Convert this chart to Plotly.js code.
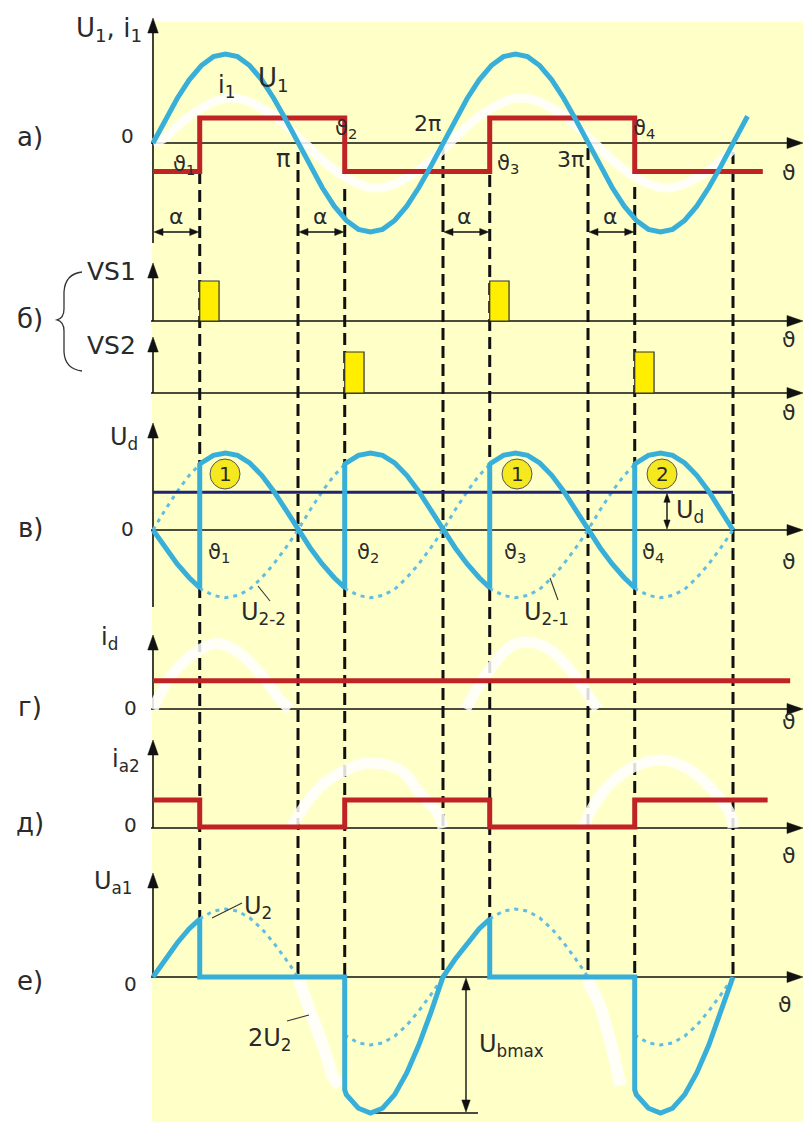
<!DOCTYPE html>
<html>
<head>
<meta charset="utf-8">
<script src="https://cdn.plot.ly/plotly-3.0.1.min.js"></script>
<style>
  html, body { margin: 0; padding: 0; background: #ffffff; }
  #chart { width: 811px; height: 1122px; }
</style>
</head>
<body>
<div id="chart"></div>
<script>
// ---------------------------------------------------------------
// Single-phase midpoint controlled rectifier: time diagrams
// angle axis in electrical degrees, every panel in per-unit values
// ---------------------------------------------------------------

// firing instants ϑ1..ϑ4 and multiples of π (degrees)
const THETA_FIRE = [58, 238, 418, 598];
const THETA_PI   = [180, 360, 540, 720];
const PULSE_WIDTH = 24;

// а) supply voltage U1
const TH_U1 = [0,15,30,45,60,75,90,105,120,135,150,165,180,195,210,225,240,255,270,285,300,315,330,345,
               360,375,390,405,420,435,450,465,480,495,510,525,540,555,570,585,600,615,630,645,660,675,690,705,720,738];
const U1 = [0,.26,.5,.71,.87,.97,1,.97,.87,.71,.5,.26,0,-.26,-.5,-.71,-.87,-.97,-1,-.97,-.87,-.71,-.5,-.26,
            0,.26,.5,.71,.87,.97,1,.97,.87,.71,.5,.26,0,-.26,-.5,-.71,-.87,-.97,-1,-.97,-.87,-.71,-.5,-.26,0,.3];

// а) faint trace of i1
const TH_I1 = [0,15,30,45,60,75,90,105,120,135,150,165,180,195,210,225,240,255,270,285,300,315,330,345,
               360,375,390,405,420,435,450,465,480,495,510,525,540,555,570,585,600,615,630,645,660,675,690,705,720];
const I1 = [0,.06,.19,.30,.39,.46,.50,.50,.46,.39,.31,.20,.07,-.06,-.19,-.30,-.39,-.46,-.50,-.50,-.46,-.39,-.31,-.20,
            -.07,.06,.19,.30,.39,.46,.50,.50,.46,.39,.31,.20,.07,-.06,-.19,-.30,-.39,-.46,-.50,-.50,-.46,-.39,-.31,-.20,-.07];

// а) primary current (square wave)
const TH_SQ = [0,58,58,238,238,418,418,598,598,757];
const I1_SQ = [-.32,-.32,.28,.28,-.32,-.32,.28,.28,-.32,-.32];

// б) gate pulses
const VS1_AT = [58, 418];
const VS2_AT = [238, 598];
const PULSE = [1, 1];

// в) rectified voltage Ud
const TH_UD = [0,15,30,45,58,
               58,60,75,90,105,120,135,150,165,180,195,210,225,238,
               238,240,255,270,285,300,315,330,345,360,375,390,405,418,
               418,420,435,450,465,480,495,510,525,540,555,570,585,598,
               598,600,615,630,645,660,675,690,705,720];
const UD = [0,-.23,-.44,-.62,-.75,
            .85,.87,.97,1,.97,.87,.71,.5,.26,0,-.23,-.44,-.62,-.75,
            .85,.87,.97,1,.97,.87,.71,.5,.26,0,-.23,-.44,-.62,-.75,
            .85,.87,.97,1,.97,.87,.71,.5,.26,0,-.23,-.44,-.62,-.75,
            .85,.87,.97,1,.97,.87,.71,.5,.26,0];
const UD_AVG = 0.49;

// в) secondary half-windings (dotted where not conducting)
const TH_U21 = [0,15,30,45,58,null,
                238,240,255,270,285,300,315,330,345,360,375,390,405,418,null,
                598,600,615,630,645,660,675,690,705,720];
const U21 = [0,.26,.5,.71,.85,null,
             -.75,-.77,-.85,-.88,-.85,-.77,-.62,-.44,-.23,0,.26,.5,.71,.85,null,
             -.75,-.77,-.85,-.88,-.85,-.77,-.62,-.44,-.23,0];
const TH_U22 = [58,60,75,90,105,120,135,150,165,180,195,210,225,238,null,
                418,420,435,450,465,480,495,510,525,540,555,570,585,598];
const U22 = [-.75,-.77,-.85,-.88,-.85,-.77,-.62,-.44,-.23,0,.26,.5,.71,.85,null,
             -.75,-.77,-.85,-.88,-.85,-.77,-.62,-.44,-.23,0,.26,.5,.71,.85];

// г) load current
const TH_ID = [0, 791];
const ID = [.41, .41];
const TH_ID_TRACE = [0,25,58,80,108,137,158,170,null,388,415,443,464,493,521,542,552];
const ID_TRACE = [0,.52,.86,.95,.81,.46,.13,0,null,0,.52,.9,.97,.86,.52,.17,0];

// д) anode current of VS2
const TH_IA2 = [0,58,58,238,238,418,418,598,598,763];
const IA2 = [1,1,.04,.04,1,1,.04,.04,1,1];
const TH_IA2_TRACE = [172,179,207,232,266,307,331,353,360,null,535,542,564,596,633,667,691,716,720];
const IA2_TRACE = [0,.39,1.46,1.96,2.32,2.07,1.25,.54,0,null,0,.54,1.46,2.18,2.43,2.07,1.46,.54,0];

// е) anode voltage of VS1
const TH_UA1 = [0,15,30,45,58,58,238,238,240,255,270,285,300,315,330,345,360,375,390,405,418,418,598,
                598,600,615,630,645,660,675,690,705,720];
const UA1 = [0,.26,.5,.71,.85,0,0,-1.66,-1.73,-1.93,-2,-1.93,-1.73,-1.41,-1,-.52,0,.26,.5,.71,.85,0,0,
             -1.66,-1.73,-1.93,-2,-1.93,-1.73,-1.41,-1,-.52,0];
const TH_U2E = [58,60,75,90,105,120,135,150,165,180,null,
                238,240,255,270,285,300,315,330,345,360,null,
                418,420,435,450,465,480,495,510,525,540,null,
                598,600,615,630,645,660,675,690,705,720];
const U2E = [.85,.87,.97,1,.97,.87,.71,.5,.26,0,null,
             -.85,-.87,-.97,-1,-.97,-.87,-.71,-.5,-.26,0,null,
             .85,.87,.97,1,.97,.87,.71,.5,.26,0,null,
             -.85,-.87,-.97,-1,-.97,-.87,-.71,-.5,-.26,0];
const TH_UA1_TRACE = [180,195,204,215,223,232,null,539,548,555,563,571,580];
const UA1_TRACE = [0,-.5,-.78,-1.15,-1.45,-1.6,null,-.04,-.25,-.43,-.75,-1.1,-1.6];
const UBMAX = -2;

// ---------------------------------------------------------------
// geometry
// ---------------------------------------------------------------
const W = 811, H = 1122;
const X0PX = 153;            // pixel column of ϑ = 0
const PXD = 145 / 180;       // pixels per degree
const thx = t => X0PX + t * PXD;
const fx = px => px / W;
const fy = py => 1 - py / H;

// per-panel vertical placement: zero line (px), px per unit, domain (px)
const AX = {
  y:  {zero: 143, k: 89, top: 0,   bot: 252},
  y2: {zero: 321, k: 40, top: 254, bot: 326},
  y3: {zero: 393, k: 41, top: 328, bot: 402},
  y4: {zero: 530, k: 77, top: 405, bot: 618},
  y5: {zero: 709, k: 69, top: 620, bot: 722},
  y6: {zero: 828, k: 28, top: 725, bot: 842},
  y7: {zero: 977, k: 68, top: 845, bot: 1122}
};
const pyv = (a, v) => AX[a].zero - v * AX[a].k;

const BLUE = '#38AFD9', BLUE_DOT = '#62BDE2', RED = '#BF2326', NAVY = '#1E2470';
const GHOST = 'rgba(255,255,255,0.85)';
const INK = '#2a2a2a';
const FONT = 'DejaVu Sans, Liberation Sans, Arial, sans-serif';

// ---------------------------------------------------------------
// traces
// ---------------------------------------------------------------
const ln = (x, y, ax, color, width, dash) => ({
  type: 'scatter', mode: 'lines', x, y, xaxis: 'x', yaxis: ax,
  line: {color, width, dash: dash || 'solid'}, connectgaps: false, hoverinfo: 'skip'
});
const spl = (x, y, ax, color, width) => {
  const t = ln(x, y, ax, color, width);
  t.line.shape = 'spline';
  return t;
};

const traces = [
  spl(TH_I1, I1, 'y', GHOST, 9),
  spl(TH_ID_TRACE, ID_TRACE, 'y5', GHOST, 11),
  spl(TH_IA2_TRACE, IA2_TRACE, 'y6', GHOST, 11),
  spl(TH_UA1_TRACE, UA1_TRACE, 'y7', GHOST, 12),

  ln(TH_U21, U21, 'y4', BLUE_DOT, 3, '4px,5px'),
  ln(TH_U22, U22, 'y4', BLUE_DOT, 3, '4px,5px'),
  ln(TH_U2E, U2E, 'y7', BLUE_DOT, 3, '4px,5px'),

  ln(TH_SQ, I1_SQ, 'y', RED, 5),
  ln(TH_ID, ID, 'y5', RED, 5),
  ln(TH_IA2, IA2, 'y6', RED, 5),

  ln([0, THETA_PI[3]], [UD_AVG, UD_AVG], 'y4', NAVY, 3),

  ln(TH_U1, U1, 'y', BLUE, 5),
  ln(TH_UD, UD, 'y4', BLUE, 5),
  ln(TH_UA1, UA1, 'y7', BLUE, 5),

  {type: 'bar', x: VS1_AT, y: PULSE, xaxis: 'x', yaxis: 'y2', width: [PULSE_WIDTH, PULSE_WIDTH], offset: 0,
   marker: {color: '#FFEE00', line: {color: '#333333', width: 1.2}}, hoverinfo: 'skip'},
  {type: 'bar', x: VS2_AT, y: PULSE, xaxis: 'x', yaxis: 'y3', width: [PULSE_WIDTH, PULSE_WIDTH], offset: 0,
   marker: {color: '#FFEE00', line: {color: '#333333', width: 1.2}}, hoverinfo: 'skip'}
];

// ---------------------------------------------------------------
// drawing furniture: background, axes, arrows, guides
// ---------------------------------------------------------------
const shapes = [];
shapes.push({type: 'rect', xref: 'paper', yref: 'paper', x0: fx(152), x1: fx(803), y0: fy(H), y1: fy(22),
             fillcolor: '#FFFFC8', line: {width: 0}, layer: 'below'});

const seg = (x0, y0, x1, y1, w, c, layer) => shapes.push({
  type: 'line', xref: 'paper', yref: 'paper', x0: fx(x0), y0: fy(y0), x1: fx(x1), y1: fy(y1),
  line: {color: c || '#111', width: w || 1.6}, layer: layer || 'below'});
const poly = (pts, c, layer) => shapes.push({
  type: 'path', xref: 'paper', yref: 'paper',
  path: 'M' + pts.map(p => fx(p[0]).toFixed(5) + ',' + fy(p[1]).toFixed(5)).join(' L') + ' Z',
  fillcolor: c || '#111', line: {color: c || '#111', width: 0.5}, layer: layer || 'below'});
const arrowR = (x, y) => poly([[x, y], [x - 16, y - 5.5], [x - 16, y + 5.5]]);
const arrowL = (x, y, s) => poly([[x, y], [x + s, y - s * 0.4], [x + s, y + s * 0.4]]);
const arrowU = (x, y, s) => poly([[x, y], [x - (s || 15) * 0.35, y + (s || 15)], [x + (s || 15) * 0.35, y + (s || 15)]]);
const arrowD = (x, y, s) => poly([[x, y], [x - s * 0.35, y - s], [x + s * 0.35, y - s]]);

// dashed projection lines
const DASH_END = AX.y7.zero;
const DASH_TOP_FIRE = [172, 189, 175, 187];
const DASH_TOP_PI = [152, 148, 148, 152];
const dashed = (t, top) => shapes.push({type: 'line', xref: 'x', yref: 'paper', x0: t, x1: t,
  y0: fy(top), y1: fy(DASH_END), line: {color: '#111', width: 3, dash: '12px,6px'}, layer: 'below'});
THETA_FIRE.forEach((t, i) => dashed(t, DASH_TOP_FIRE[i]));
THETA_PI.forEach((t, i) => dashed(t, DASH_TOP_PI[i]));

// coordinate axes of every panel: [axis, arrow tip of ordinate, lower end of ordinate]
[['y', 18, 243], ['y2', 263, 321], ['y3', 337, 393], ['y4', 423, 607],
 ['y5', 635, 709], ['y6', 740, 828], ['y7', 873, 977]].forEach(([a, tip, bot]) => {
  const z = AX[a].zero;
  seg(X0PX, tip + 10, X0PX, bot);
  arrowU(X0PX, tip, 15);
  seg(151, z, 792, z);
  arrowR(803, z);
});

// α spans
const ALPHA_Y = 232;
[0, THETA_PI[0], THETA_PI[1], THETA_PI[2]].forEach((t0, i) => {
  const xa = thx(t0), xb = thx(THETA_FIRE[i]);
  seg(xa + 6, ALPHA_Y, xb - 6, ALPHA_Y, 1.3);
  arrowL(xa + 1, ALPHA_Y, 9);
  poly([[xb - 1, ALPHA_Y], [xb - 10, ALPHA_Y - 3.6], [xb - 10, ALPHA_Y + 3.6]]);
});

// Ud level marker
const UDX = 667, udTop = pyv('y4', UD_AVG), udBot = AX.y4.zero;
seg(UDX, udTop + 6, UDX, udBot - 6, 1.4);
arrowU(UDX, udTop + 1, 9);
arrowD(UDX, udBot - 1, 9);

// Ubmax marker
const UBX = 466, ubBot = pyv('y7', UBMAX), ubTop = AX.y7.zero;
seg(UBX, ubTop + 6, UBX, ubBot - 6, 1.4);
arrowU(UBX, ubTop + 1, 12);
arrowD(UBX, ubBot - 1, 12);
seg(370, ubBot, 478, ubBot, 1.4);

// leader lines
seg(258, 586, 270, 601, 1.1, '#333', 'above');
seg(550, 578, 558, 600, 1.1, '#333', 'above');
seg(212, 918, 242, 903, 1.1, '#333', 'above');
seg(287, 1021, 309, 1015, 1.1, '#333', 'above');

// brace grouping VS1 / VS2
const bp = (x, y) => fx(x).toFixed(5) + ',' + fy(y).toFixed(5);
shapes.push({type: 'path', xref: 'paper', yref: 'paper', layer: 'above',
  path: 'M' + bp(82, 272) + ' Q' + bp(65, 274) + ' ' + bp(64, 292) + ' L' + bp(64, 309) +
        ' Q' + bp(64, 318) + ' ' + bp(57, 320) + ' Q' + bp(64, 322) + ' ' + bp(64, 331) +
        ' L' + bp(64, 352) + ' Q' + bp(65, 369) + ' ' + bp(82, 371),
  line: {color: '#333', width: 1.3}});

// numbered conduction intervals
const circ = (x, y) => shapes.push({type: 'circle', xref: 'paper', yref: 'paper', layer: 'above',
  x0: fx(x - 15), x1: fx(x + 15), y0: fy(y + 15), y1: fy(y - 15),
  fillcolor: '#F6E81E', line: {color: '#555', width: 1}});
circ(225, 474); circ(517, 474); circ(662, 474);

// ---------------------------------------------------------------
// labels
// ---------------------------------------------------------------
const annotations = [];
const A = (text, x, y, size, anchor) => annotations.push({
  text, xref: 'paper', yref: 'paper', x: fx(x), y: fy(y), showarrow: false,
  xanchor: anchor || 'center', yanchor: 'middle', font: {family: FONT, size: size || 24, color: INK}});

// а)
A('U<sub>1</sub>, i<sub>1</sub>', 74, 30, 26, 'left');
A('i<sub>1</sub>', 216, 86, 24, 'left');
A('U<sub>1</sub>', 256, 80, 26, 'left');
A('а)', 30, 137, 26);
A('0', 127, 136, 20);
A('ϑ<sub>1</sub>', 171, 165, 21, 'left');
A('π', 283, 159, 24);
A('ϑ<sub>2</sub>', 333, 129, 21, 'left');
A('2π', 428, 124, 22);
A('ϑ<sub>3</sub>', 495, 164, 21, 'left');
A('3π', 570, 160, 22);
A('ϑ<sub>4</sub>', 631, 129, 21, 'left');
A('ϑ', 789, 172, 22);
[176, 320, 465, 610].forEach(x => A('α', x, 217, 22));

// б)
A('б)', 30, 319, 26);
A('VS1', 112, 271, 25);
A('VS2', 112, 345, 25);
A('ϑ', 789, 340, 22);
A('ϑ', 789, 412, 22);

// в)
A('U<sub>d</sub>', 108, 438, 24, 'left');
A('в)', 30, 528, 26);
A('0', 127, 529, 20);
A('ϑ<sub>1</sub>', 206, 553, 21, 'left');
A('ϑ<sub>2</sub>', 355, 553, 21, 'left');
A('ϑ<sub>3</sub>', 502, 553, 21, 'left');
A('ϑ<sub>4</sub>', 640, 553, 21, 'left');
A('ϑ', 789, 561, 22);
A('1', 225, 474, 20); A('1', 517, 474, 20); A('2', 662, 474, 20);
A('U<sub>2-2</sub>', 239, 613, 24, 'left');
A('U<sub>2-1</sub>', 522, 613, 24, 'left');
A('U<sub>d</sub>', 674, 512, 24, 'left');

// г)
A('i<sub>d</sub>', 99, 639, 24, 'left');
A('г)', 30, 707, 26);
A('0', 130, 708, 20);
A('ϑ', 789, 721, 22);

// д)
A('i<sub>a2</sub>', 110, 760, 24, 'left');
A('д)', 30, 823, 26);
A('0', 130, 825, 20);
A('ϑ', 789, 855, 22);

// е)
A('U<sub>a1</sub>', 92, 882, 24, 'left');
A('е)', 30, 981, 26);
A('0', 130, 984, 20);
A('ϑ', 785, 1004, 22);
A('U<sub>2</sub>', 242, 907, 24, 'left');
A('2U<sub>2</sub>', 246, 1039, 24, 'left');
A('U<sub>bmax</sub>', 477, 1045, 24, 'left');

// ---------------------------------------------------------------
// layout
// ---------------------------------------------------------------
const layout = {
  width: W, height: H, autosize: false,
  margin: {l: 0, r: 0, t: 0, b: 0, pad: 0},
  paper_bgcolor: '#ffffff', plot_bgcolor: 'rgba(0,0,0,0)',
  showlegend: false, hovermode: false,
  xaxis: {domain: [0, 1], range: [-X0PX / PXD, (W - X0PX) / PXD], visible: false, fixedrange: true},
  shapes, annotations
};
Object.keys(AX).forEach(a => {
  const p = AX[a];
  const key = a === 'y' ? 'yaxis' : 'yaxis' + a.slice(1);
  layout[key] = {
    domain: [1 - p.bot / H, 1 - p.top / H],
    range: [-(p.bot - p.zero) / p.k, (p.zero - p.top) / p.k],
    visible: false, fixedrange: true, anchor: 'x'
  };
});

Plotly.newPlot('chart', traces, layout, {staticPlot: true, displayModeBar: false});
</script>
</body>
</html>
